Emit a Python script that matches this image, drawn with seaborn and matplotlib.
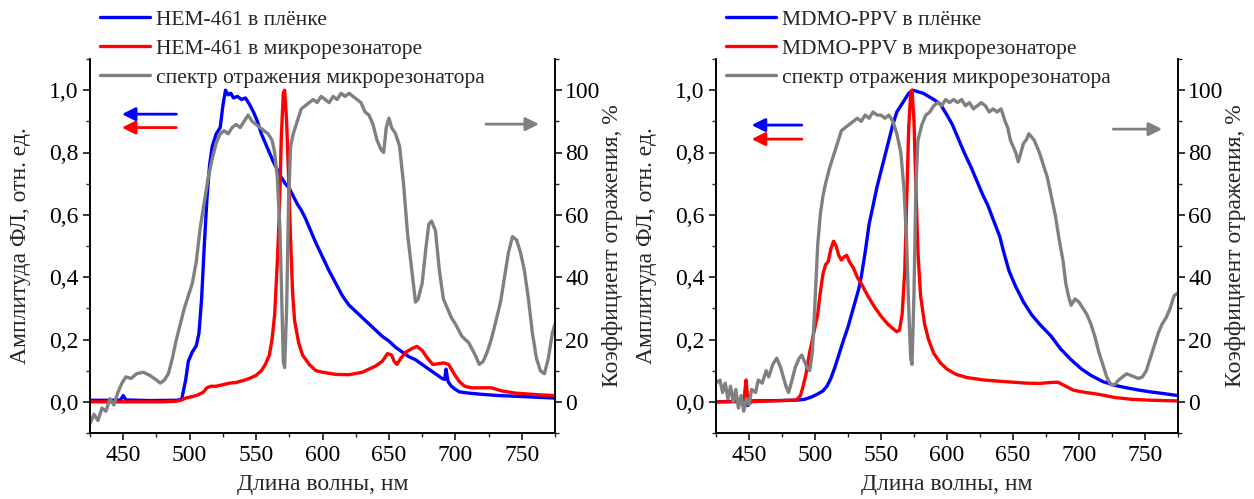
import numpy as np
import pandas as pd
import matplotlib
matplotlib.use("Agg")
import matplotlib.pyplot as plt
import seaborn as sns
from matplotlib.ticker import MultipleLocator, FuncFormatter

# ---- left panel: HEM-461 ----
hem_film_wl = [425, 440, 448, 450, 452, 470, 490, 494, 497, 499, 502, 505, 507, 509, 511, 513, 515, 517,
               520, 523, 525, 527, 529, 531, 533, 536, 539, 542, 545, 548, 551, 554, 557, 560, 563, 566,
               569, 572, 575, 578, 581, 584, 587, 590, 595, 600, 605, 610, 615, 620, 625, 630, 635, 640,
               645, 650, 655, 660, 665, 670, 675, 680, 685, 690, 692, 693, 694.5, 697, 700, 703, 710, 720,
               733, 745, 760, 775]
hem_film = [0.005, 0.005, 0.006, 0.02, 0.006, 0.004, 0.005, 0.008, 0.07, 0.13, 0.16, 0.18, 0.22, 0.33,
            0.5, 0.65, 0.76, 0.82, 0.86, 0.88, 0.95, 1.0, 0.985, 0.99, 0.975, 0.98, 0.97, 0.975, 0.955,
            0.93, 0.9, 0.86, 0.83, 0.8, 0.77, 0.745, 0.72, 0.7, 0.685, 0.66, 0.635, 0.615, 0.59, 0.56,
            0.51, 0.465, 0.42, 0.38, 0.34, 0.31, 0.29, 0.27, 0.25, 0.23, 0.21, 0.195, 0.175, 0.16, 0.145,
            0.135, 0.12, 0.105, 0.09, 0.075, 0.072, 0.105, 0.065, 0.05, 0.04, 0.032, 0.028, 0.024, 0.02,
            0.018, 0.015, 0.012]

hem_cav_wl = [425, 450, 480, 490, 494, 497, 500, 505, 510, 513, 516, 520, 525, 530, 535, 540, 545, 550,
              554, 557, 560, 562, 564, 566, 567.5, 569, 570.5, 571.5, 573, 574.5, 576, 577.5, 579, 582,
              585, 590, 595, 600, 610, 620, 630, 640, 645, 649, 652, 654, 656, 659, 663, 667, 671, 675,
              679, 683, 687, 691, 695, 699, 703, 707, 712, 720, 727, 735, 745, 755, 765, 775]
hem_cav = [0.0, 0.0, 0.0, 0.002, 0.006, 0.012, 0.015, 0.02, 0.03, 0.045, 0.05, 0.05, 0.055, 0.06, 0.062,
           0.068, 0.075, 0.085, 0.1, 0.12, 0.15, 0.2, 0.28, 0.45, 0.6, 0.85, 0.99, 1.0, 0.9, 0.72, 0.52,
           0.35, 0.26, 0.19, 0.15, 0.12, 0.1, 0.095, 0.088, 0.087, 0.095, 0.115, 0.13, 0.155, 0.15, 0.13,
           0.12, 0.14, 0.16, 0.17, 0.178, 0.165, 0.14, 0.12, 0.122, 0.125, 0.12, 0.09, 0.065, 0.05, 0.045,
           0.045, 0.045, 0.035, 0.028, 0.025, 0.022, 0.02]

hem_refl_wl = [425, 428, 431, 434, 437, 440, 443, 446, 449, 452, 456, 460, 465, 470, 475, 478, 481, 484,
               487, 490, 493, 496, 499, 502, 505, 508, 511, 514, 517, 520, 523, 526, 529, 532, 535, 538,
               541, 544, 547, 550, 553, 556, 559, 562, 564, 566, 568, 569.5, 570.5, 571.5, 573, 574.5, 576,
               578, 581, 584, 587, 590, 593, 596, 599, 602, 605, 608, 611, 614, 617, 620, 623, 626, 629,
               632, 635, 638, 641, 644, 646, 648, 650, 652, 655, 658, 661, 664, 667, 670, 672, 675, 678,
               680, 682, 685, 688, 691, 694, 697, 700, 705, 710, 715, 718, 721, 724, 727, 730, 734, 737,
               740, 743, 746, 749, 752, 755, 758, 761, 764, 767, 770, 773, 775]
hem_refl = [-7, -4, -6, -2, -3, 1, -1, 3, 6, 8, 7.5, 9, 9.5, 8.5, 7, 6, 7, 9, 14, 20, 25, 30, 34, 38, 45,
            56, 64, 72, 78, 83, 86, 87, 86, 88, 89, 88, 90, 92, 90, 89, 88, 87, 86, 84, 80, 72, 55, 30,
            13, 11, 30, 65, 82, 86, 90, 94, 95, 96, 97, 96, 98, 97, 96, 98, 97, 99, 98, 99, 98, 97, 96,
            93, 92, 89, 84, 81, 80, 88, 91, 88, 86, 82, 70, 54, 43, 32, 33, 38, 50, 57, 58, 55, 42, 33,
            30, 27, 25, 21, 19, 15, 12, 13, 16, 20, 25, 32, 40, 48, 53, 52, 48, 42, 33, 22, 14, 10, 9,
            14, 22, 25]

# ---- right panel: MDMO-PPV ----
ppv_film_wl = [425, 440, 447, 449, 452, 470, 485, 492, 497, 502, 506, 509, 512, 515, 518, 521, 525, 529,
               533, 535, 538, 541, 544, 547, 550, 553, 556, 559, 562, 565, 568, 571, 574, 578, 582, 586,
               590, 595, 600, 604, 608, 613, 618, 622, 627, 631, 635, 640, 643, 647, 652, 658, 664, 670,
               679, 686, 694, 702, 709, 718, 727, 736, 745, 754, 765, 775]
ppv_film = [0.0, 0.002, 0.0, -0.012, 0.003, 0.004, 0.005, 0.008, 0.015, 0.025, 0.035, 0.05, 0.075, 0.11,
            0.15, 0.19, 0.24, 0.3, 0.36, 0.4, 0.48, 0.57, 0.63, 0.69, 0.74, 0.79, 0.84, 0.89, 0.93, 0.95,
            0.97, 0.99, 1.0, 0.995, 0.99, 0.98, 0.97, 0.955, 0.92, 0.89, 0.85, 0.8, 0.755, 0.715, 0.665,
            0.63, 0.585, 0.53, 0.48, 0.42, 0.37, 0.32, 0.28, 0.25, 0.21, 0.17, 0.135, 0.105, 0.085, 0.065,
            0.053, 0.045, 0.038, 0.032, 0.026, 0.02]

ppv_cav_wl = [425, 440, 446, 447, 447.8, 448.6, 449.5, 460, 475, 486, 489, 491, 493, 496, 499, 502, 504,
              506, 508, 510, 512, 514, 516, 518, 520, 522, 524, 526, 529, 532, 535, 540, 545, 550, 555,
              559, 562, 564, 566, 568, 569.5, 571, 572.5, 573.5, 575, 576.5, 578, 580, 583, 586, 590, 595,
              600, 607, 615, 628, 640, 650, 660, 670, 678, 684, 690, 696, 705, 715, 727, 740, 755, 775]
ppv_cav = [0.0, 0.0, 0.0, 0.04, 0.07, 0.03, 0.0, 0.002, 0.004, 0.006, 0.02, 0.05, 0.085, 0.16, 0.22,
           0.28, 0.35, 0.41, 0.44, 0.45, 0.49, 0.515, 0.5, 0.47, 0.455, 0.465, 0.47, 0.45, 0.43, 0.4, 0.38,
           0.34, 0.305, 0.275, 0.25, 0.235, 0.225, 0.23, 0.28, 0.42, 0.65, 0.88, 0.99, 1.0, 0.9, 0.68,
           0.48, 0.34, 0.25, 0.2, 0.155, 0.125, 0.105, 0.088, 0.078, 0.07, 0.066, 0.063, 0.06, 0.059,
           0.062, 0.063, 0.05, 0.037, 0.03, 0.024, 0.014, 0.008, 0.005, 0.003]

ppv_refl_wl = [425, 428, 430, 432, 434, 436, 438, 440, 442, 444, 446, 448, 450, 452, 455, 457, 460, 463,
               465, 468, 471, 474, 476, 478, 480, 482, 485, 488, 490, 492, 494, 496, 498, 500, 502, 504,
               506, 508, 511, 514, 517, 520, 523, 526, 529, 532, 535, 538, 541, 544, 547, 550, 553, 556,
               559, 562, 565, 567.5, 569.5, 571, 572.5, 573.5, 575, 576.5, 578, 581, 584, 587, 590, 593,
               596, 599, 602, 605, 608, 611, 614, 617, 620, 623, 626, 629, 632, 635, 638, 641, 644, 646,
               648, 650, 652, 654, 656, 658, 660, 662, 664, 666, 668, 670, 673, 676, 679, 682, 685, 688,
               690, 692, 694, 697, 700, 703, 706, 709, 712, 715, 718, 721, 724, 727, 730, 733, 736, 739,
               742, 745, 748, 751, 754, 757, 760, 763, 766, 769, 772, 775]
ppv_refl = [6, 7, 3, 6, 1, 5, 0, 4, -2, 2, -3, 1, -1, 4, 3, 7, 6, 10, 8, 12, 14, 11, 8, 5, 3, 6, 11, 14,
            15, 13, 11, 10, 16, 32, 50, 60, 66, 70, 75, 79, 83, 87, 88, 89, 90, 91, 90, 92, 91, 93, 92,
            92, 91, 92, 90, 86, 80, 68, 50, 30, 14, 12, 35, 70, 84, 89, 92, 93, 95, 96, 95, 97, 96, 97,
            96, 97, 95, 96, 94, 95, 96, 95, 93, 94, 93, 94, 90, 88, 84, 82, 80, 77, 80, 83, 84, 86, 85,
            84, 82, 80, 76, 72, 66, 60, 52, 45, 38, 34, 31, 33, 32, 30, 28, 25, 21, 16, 12, 8, 5.5, 5.5,
            7, 8, 9, 8.5, 8, 7.5, 8, 10, 14, 18, 22, 25, 27, 30, 34, 35]

labels_hem = ["HEM-461 в плёнке", "HEM-461 в микрорезонаторе", "спектр отражения микрорезонатора"]
labels_ppv = ["MDMO-PPV в плёнке", "MDMO-PPV в микрорезонаторе", "спектр отражения микрорезонатора"]

BLUE, RED, GRAY = "#0000ff", "#ff0000", "#808080"

sns.set_theme(style="ticks")
plt.rcParams["font.family"] = ["Liberation Serif", "DejaVu Serif"]

fig = plt.figure(figsize=(12.54, 4.99), dpi=100)

comma = FuncFormatter(lambda v, p: f"{v:.1f}".replace(".", ","))
FS = 17


def panel(rect, film, cav, refl, labels, arrows):
    ax = fig.add_axes(rect)
    ax2 = ax.twinx()
    lw = 2.4
    sns.lineplot(x=film[0], y=film[1], ax=ax, color=BLUE, lw=lw, label=labels[0], legend=False)
    sns.lineplot(x=cav[0], y=cav[1], ax=ax, color=RED, lw=lw, label=labels[1], legend=False)
    sns.lineplot(x=refl[0], y=refl[1], ax=ax2, color=GRAY, lw=lw, label=labels[2], legend=False)

    ax.set_xlim(425, 775)
    ax.set_ylim(-0.1, 1.1)
    ax2.set_ylim(-10, 110)
    ax.xaxis.set_major_locator(MultipleLocator(50))
    ax.xaxis.set_minor_locator(MultipleLocator(25))
    ax.yaxis.set_major_locator(MultipleLocator(0.2))
    ax.yaxis.set_minor_locator(MultipleLocator(0.1))
    ax.yaxis.set_major_formatter(comma)
    ax2.set_yticks([0, 20, 40, 60, 80, 100])
    ax2.yaxis.set_minor_locator(MultipleLocator(10))

    for a in (ax, ax2):
        a.spines["top"].set_visible(False)
        for s in a.spines.values():
            s.set_linewidth(1.2)
            s.set_color("black")
        a.tick_params(which="major", length=5, width=1.1, labelsize=FS, colors="black")
        a.tick_params(which="minor", length=3, width=1.0)
    ax2.tick_params(which="major", pad=2.5)

    ax.set_xlabel("Длина волны, нм", fontsize=FS, labelpad=6)
    ax.set_ylabel("Амплитуда ФЛ, отн. ед.", fontsize=FS, labelpad=13)
    ax2.set_ylabel("Коэффициент отражения, %", fontsize=FS, labelpad=1)

    # direction arrows
    for (x0, x1, y, c) in arrows:
        ax.annotate("", xy=(x1, y), xytext=(x0, y),
                    arrowprops=dict(arrowstyle="-|>", color=c, lw=2, mutation_scale=20,
                                    shrinkA=0, shrinkB=0))

    handles = ax.get_lines()[:2] + ax2.get_lines()[:1]
    ax2.legend(handles, labels, loc="upper left", bbox_to_anchor=(0.022, 1.132),
               frameon=False, fontsize=15.5, handlelength=2.3, handletextpad=0.3,
               labelspacing=0.42, borderpad=0, borderaxespad=0)
    return ax, ax2


panel([90 / 1254, 66 / 499, 465 / 1254, 374 / 499], (hem_film_wl, hem_film), (hem_cav_wl, hem_cav),
      (hem_refl_wl, hem_refl), labels_hem,
      [(490, 449, 0.923, BLUE), (490, 449, 0.88, RED), (723, 763, 0.891, GRAY)])
panel([716 / 1254, 66 / 499, 462 / 1254, 374 / 499], (ppv_film_wl, ppv_film), (ppv_cav_wl, ppv_cav),
      (ppv_refl_wl, ppv_refl), labels_ppv,
      [(490, 452, 0.888, BLUE), (490, 452, 0.843, RED), (726, 763, 0.875, GRAY)])

fig.savefig("out.png", dpi=100)
